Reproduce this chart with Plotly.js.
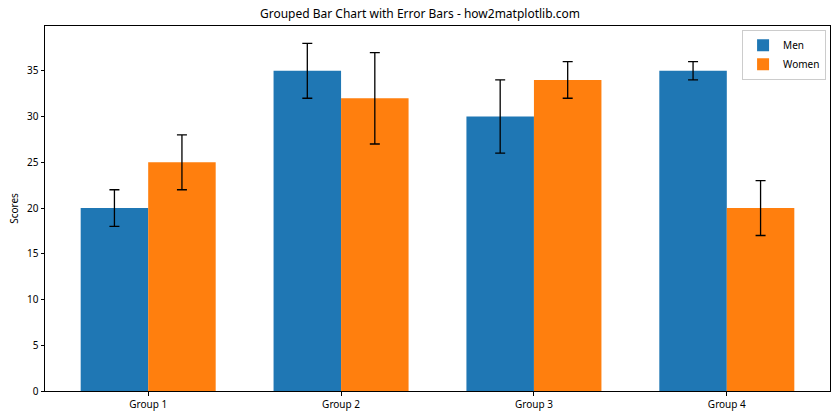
<!DOCTYPE html>
<html>
<head>
<meta charset="utf-8">
<script src="https://cdn.plot.ly/plotly-3.0.1.min.js"></script>
<style>html,body{margin:0;padding:0;background:#fff;}#chart{width:840px;height:420px;}</style>
</head>
<body>
<div id="chart"></div>
<script>
const categories = ["Group 1", "Group 2", "Group 3", "Group 4"];
const menScores = [20, 35, 30, 35];
const womenScores = [25, 32, 34, 20];
const menErrors = [2, 3, 4, 1];
const womenErrors = [3, 5, 2, 3];
const yTicks = [0, 5, 10, 15, 20, 25, 30, 35];

const xIdx = categories.map((_, i) => i);
const font = "Noto Sans, DejaVu Sans, sans-serif";

const errStyle = (arr) => ({type: "data", array: arr, visible: true, color: "#000", thickness: 1.3, width: 5});

const traces = [
  {type: "bar", name: "Men", x: xIdx, y: menScores, marker: {color: "#1f77b4"}, error_y: errStyle(menErrors)},
  {type: "bar", name: "Women", x: xIdx, y: womenScores, marker: {color: "#ff7f0e"}, error_y: errStyle(womenErrors)}
];

const layout = {
  width: 840, height: 420,
  margin: {l: 45, r: 10, t: 26, b: 29, pad: 0},
  paper_bgcolor: "#fff", plot_bgcolor: "#fff",
  font: {family: font, size: 10, color: "#000"},
  title: {text: "Grouped Bar Chart with Error Bars - how2matplotlib.com", font: {size: 12, family: font}, x: 0.5, xanchor: "center", y: 0.966, yanchor: "middle"},
  barmode: "group", bargap: 0.3, bargroupgap: 0,
  xaxis: {range: [-0.535, 3.535], tickvals: xIdx, ticktext: categories, showgrid: false, zeroline: false,
          showline: true, linecolor: "#000", linewidth: 1, mirror: true, ticks: "outside", ticklen: 3.5, tickcolor: "#000", fixedrange: true},
  yaxis: {range: [0, 39.9], tickvals: yTicks, showgrid: false, zeroline: false,
          showline: true, linecolor: "#000", linewidth: 1, mirror: true, ticks: "outside", ticklen: 3.5, tickcolor: "#000",
          title: {text: "Scores", font: {size: 10}, standoff: 6}},
  legend: {x: 0.995, y: 0.99, xanchor: "right", yanchor: "top", bgcolor: "rgba(255,255,255,0.8)", bordercolor: "#ccc", borderwidth: 1, font: {size: 10}},
  showlegend: true
};

Plotly.newPlot("chart", traces, layout, {displayModeBar: false, staticPlot: true});
</script>
</body>
</html>
